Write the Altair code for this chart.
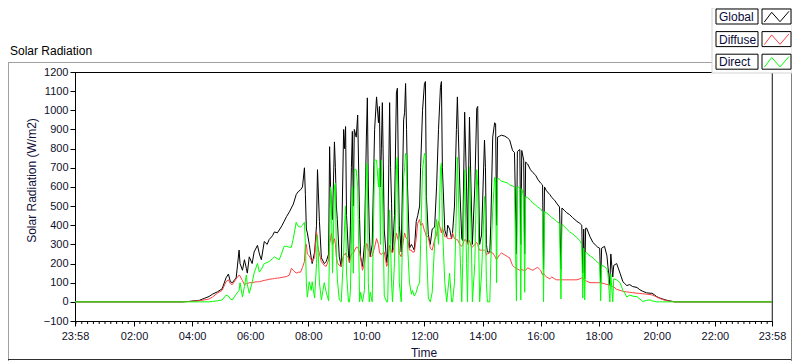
import altair as alt
import pandas as pd

# ---------------- data ----------------
TIMES = [
    "23:58", "03:39", "03:54", "04:04", "04:15", "04:25", "04:35", "04:42", "04:52", "05:02",
    "05:10", "05:15", "05:19", "05:23", "05:31", "05:37", "05:39", "05:44", "05:48", "05:52", "05:54", "05:58", "06:04",
    "06:08", "06:15", "06:19", "06:23", "06:29", "06:35", "06:39", "06:46", "06:50", "06:56", "07:00",
    "07:06", "07:10", "07:15", "07:21", "07:25", "07:29", "07:35", "07:39", "07:44", "07:48", "07:52", "07:54", "07:56", "07:58",
    "08:02", "08:06", "08:08", "08:13", "08:17", "08:19", "08:23", "08:27", "08:33", "08:37", "08:42", "08:44", "08:46", "08:48", "08:50", "08:54", "08:56", "08:58", "09:00",
    "09:04", "09:08", "09:13", "09:15", "09:17", "09:19", "09:23", "09:25", "09:27", "09:29", "09:31", "09:33", "09:35", "09:39", "09:42", "09:46", "09:48", "09:52", "09:56",
    "10:00", "10:02", "10:04", "10:06", "10:08", "10:12", "10:17", "10:21", "10:25", "10:27", "10:29", "10:31", "10:33", "10:37", "10:42", "10:44", "10:48", "10:50", "10:52", "10:54", "10:58",
    "11:02", "11:04", "11:06", "11:08", "11:12", "11:17", "11:19", "11:21", "11:23", "11:25", "11:29", "11:33", "11:35", "11:39", "11:43", "11:46", "11:50", "11:52", "11:56",
    "12:00", "12:02", "12:04", "12:08", "12:12", "12:16", "12:21", "12:25", "12:29", "12:33", "12:35", "12:37", "12:42", "12:46", "12:48", "12:52", "12:56", "12:58",
    "13:02", "13:06", "13:08", "13:13", "13:17", "13:19", "13:23", "13:27", "13:29", "13:33", "13:37", "13:39", "13:44", "13:48", "13:50", "13:52", "13:54", "13:58",
    "14:04", "14:06", "14:08", "14:10", "14:15", "14:17", "14:21", "14:25", "14:27", "14:29", "14:31", "14:35", "14:39", "14:46", "14:52", "14:56",
    "15:02", "15:06", "15:10", "15:12", "15:17", "15:19", "15:21", "15:25", "15:27", "15:29", "15:33", "15:39", "15:44", "15:50", "15:54", "16:00",
    "16:04", "16:06", "16:08", "16:12", "16:19", "16:23", "16:29", "16:33", "16:39", "16:42", "16:44", "16:50", "16:54", "17:00",
    "17:06", "17:15", "17:21", "17:25", "17:27", "17:29", "17:31", "17:33", "17:35", "17:42", "17:48", "17:54", "17:58", "18:02",
    "18:04", "18:06", "18:12", "18:17", "18:19", "18:23", "18:25", "18:29", "18:31", "18:37", "18:44", "18:50", "18:54", "18:58", "19:04",
    "19:10", "19:19", "19:25", "19:31", "19:39", "19:46", "19:50", "19:56", "20:00", "20:06", "20:12", "20:21", "20:27", "20:37", "23:58",
]

GLOBAL = [
    0, 0, 2, 5, 8, 18, 28, 40, 52, 68,
    125, 145, 105, 100, 125, 270, 200, 165, 220, 175, 150, 235, 200,
    260, 295, 250, 220, 315, 300, 325, 345, 365, 360, 375,
    400, 420, 445, 470, 490, 510, 560, 575, 585, 600, 700, 560, 380, 360,
    300, 230, 200, 260, 400, 690, 420, 230, 200, 210, 250, 810, 600, 480, 430, 835, 700, 500, 430,
    235, 185, 900, 800, 915, 450, 250, 205, 400, 700, 890, 500, 900, 860, 975, 430, 235, 185, 300,
    860, 1065, 600, 375, 235, 300, 900, 1070, 935, 1020, 600, 800, 1040, 375, 205, 250, 1040, 700, 515, 260, 450,
    1090, 1115, 700, 400, 260, 950, 990, 1140, 900, 600, 280, 300, 290, 270, 420, 450, 500, 700, 1000,
    1140, 1150, 550, 350, 300, 380, 390, 600, 900, 1120, 1150, 700, 375, 340, 400, 380, 330, 360,
    500, 900, 1070, 600, 330, 320, 990, 600, 310, 965, 500, 300, 600, 1010, 1020, 600, 300, 350,
    845, 700, 300, 260, 260, 400, 860, 935, 930, 400, 860, 865, 870, 865, 855, 845,
    790, 780, 250, 785, 795, 300, 790, 740, 250, 730, 720, 690, 675, 660, 640, 620,
    610, 170, 600, 580, 560, 545, 530, 515, 495, 170, 490, 475, 465, 455,
    440, 420, 410, 400, 150, 380, 120, 385, 385, 340, 310, 295, 285, 280,
    100, 280, 290, 240, 185, 90, 250, 130, 190, 200, 150, 105, 95, 85, 90,
    80, 75, 63, 55, 47, 45, 45, 35, 27, 20, 15, 8, 5, 0, 0,
]

DIFFUSE = [
    0, 0, 2, 4, 6, 10, 15, 25, 45, 60,
    105, 115, 95, 90, 120, 140, 135, 110, 90, 95, 95, 100, 100,
    103, 105, 105, 108, 112, 115, 118, 120, 122, 124, 125,
    128, 130, 132, 140, 175, 165, 150, 155, 155, 180, 210, 300, 300, 250,
    240, 220, 210, 230, 365, 300, 250, 210, 190, 185, 220, 305, 330, 360, 300, 330, 300, 235, 205,
    190, 185, 250, 245, 255, 240, 230, 205, 230, 250, 255, 250, 265, 285, 285, 260, 230, 165, 200,
    305, 300, 270, 263, 235, 240, 285, 330, 300, 260, 250, 247, 255, 260, 185, 200, 295, 280, 260, 255, 300,
    360, 340, 320, 253, 235, 330, 360, 340, 330, 330, 270, 270, 260, 260, 330, 410, 430, 400, 410,
    370, 360, 340, 340, 280, 270, 325, 350, 420, 380, 360, 390, 340, 340, 330, 330, 330, 360,
    330, 325, 325, 300, 290, 300, 325, 320, 300, 320, 285, 285, 300, 310, 300, 280, 270, 270,
    270, 265, 245, 250, 255, 260, 255, 240, 230, 220, 230, 245, 255, 245, 235, 230,
    190, 180, 175, 172, 165, 170, 168, 165, 165, 165, 178, 170, 165, 175, 180, 165,
    140, 150, 140, 130, 120, 130, 120, 115, 115, 115, 115, 115, 115, 115,
    115, 115, 120, 125, 125, 120, 110, 110, 108, 100, 100, 100, 100, 100,
    98, 98, 95, 90, 90, 85, 85, 80, 78, 65, 60, 55, 53, 52, 50,
    48, 45, 44, 42, 40, 38, 36, 30, 25, 18, 12, 6, 3, 0, 0,
]

DIRECT = [
    0, 0, 0, 0, 0, 0, 0, 2, 5, 10,
    35, 30, 15, 10, 40, 60, 100, 25, 80, 140, 90, 45, 100,
    150, 200, 155, 170, 200, 205, 210, 225, 235, 225, 220,
    260, 290, 290, 285, 285, 330, 415, 395, 390, 400, 415, 300, 100, 25,
    105, 60, 105, 20, 200, 350, 100, 10, 100, 50, 5, 300, 600, 500, 150, 600, 620, 250, 120,
    10, 0, 255, 400, 500, 150, 0, 0, 60, 300, 600, 150, 690, 690, 600, 0, 50, 0, 60,
    725, 700, 100, 0, 50, 0, 740, 740, 600, 700, 300, 740, 600, 30, 0, 0, 480, 300, 100, 0, 200,
    690, 755, 400, 100, 0, 650, 700, 775, 760, 300, 100, 40, 60, 30, 50, 80, 100, 300, 690,
    775, 760, 300, 20, 0, 50, 305, 430, 300, 690, 725, 400, 100, 0, 50, 150, 0, 0,
    100, 500, 755, 300, 0, 200, 690, 200, 0, 705, 300, 0, 200, 690, 600, 300, 0, 150,
    550, 400, 100, 0, 0, 200, 480, 650, 620, 100, 645, 640, 630, 625, 620, 610,
    605, 600, 5, 600, 598, 10, 590, 550, 50, 548, 545, 530, 515, 505, 495, 485,
    470, 0, 470, 465, 450, 440, 430, 420, 410, 15, 405, 390, 380, 365,
    355, 335, 320, 300, 20, 280, 10, 260, 255, 240, 230, 215, 205, 200,
    5, 190, 185, 170, 150, 0, 145, 0, 120, 115, 100, 60, 45, 25, 35,
    30, 27, 15, 2, 8, 10, 5, 2, 0, 0, 0, 0, 0, 0, 0,
]

SERIES = ["Global", "Diffuse", "Direct"]
COLORS = ["#000000", "#ff4040", "#00ff00"]
X_TICK_LABELS = ["23:58", "02:00", "04:00", "06:00", "08:00", "10:00", "12:00",
                 "14:00", "16:00", "18:00", "20:00", "22:00", "23:58"]
Y_TICKS = [-100, 0, 100, 200, 300, 400, 500, 600, 700, 800, 900, 1000, 1100, 1200]
CHART_TITLE = "Solar Radiation"
X_TITLE = "Time"
Y_TITLE = "Solar Radiation (W/m2)"

assert len(TIMES) == len(GLOBAL) == len(DIFFUSE) == len(DIRECT)


def to_minutes(t):
    h, m = t.split(":")
    return int(h) * 60 + int(m)


minutes = [to_minutes(t) for t in TIMES]
minutes[0] -= 1440  # starts at 23:58 of the previous day

frames = []
for name, vals in zip(SERIES, [GLOBAL, DIFFUSE, DIRECT]):
    frames.append(pd.DataFrame({"minute": minutes, "value": vals, "series": name}))
df = pd.concat(frames, ignore_index=True)

x_vals = [to_minutes(t) for t in X_TICK_LABELS]
x_vals[0] -= 1440

PW, PH = 697, 249
FONT = "Liberation Sans"

xscale = alt.Scale(domain=[x_vals[0], x_vals[-1]], nice=False, zero=False)
yscale = alt.Scale(domain=[Y_TICKS[0], Y_TICKS[-1]], nice=False, zero=False)

label_expr = ("(datum.value < 0 || datum.value > 1430) ? '23:58' : "
              "(datum.value < 600 ? '0' : '') + floor(datum.value / 60) + ':00'")

x_axis = alt.Axis(values=x_vals, labelExpr=label_expr, title=X_TITLE,
                  labelFlush=False, labelOverlap=False, tickSize=5,
                  labelPadding=4, titlePadding=6)
x_enc = alt.X("minute:Q", scale=xscale, axis=x_axis)
y_enc = alt.Y("value:Q", scale=yscale,
              axis=alt.Axis(values=Y_TICKS, title=Y_TITLE, tickSize=5, format="d",
                            labelPadding=2, titlePadding=5, titleY=108,
                            labelOverlap=False))

base = alt.Chart(df)
line_layers = [
    base.transform_filter(alt.datum.series == name)
        .mark_line(strokeWidth=1, color=c)
        .encode(x=x_enc, y=y_enc)
    for name, c in zip(SERIES, COLORS)
]

# minor ticks on the time axis (same x encoding so the axis is shared)
minor_df = pd.DataFrame({"minute": [m for m in range(0, 1440, 12) if m % 120 != 0 or m == 0]})
minor = alt.Chart(minor_df).mark_rule(color="#000000", strokeWidth=1).encode(
    x=x_enc, y=alt.value(PH), y2=alt.value(PH + 3))

# frame and decoration (pixel coordinates relative to plot origin)
deco_rows = [
    (-67, -9.5, 637, -9.5, "#a0a0a0"),
    (-66.5, -10, -66.5, 290, "#a0a0a0"),
    (-67, 287.5, 717, 287.5, "#303030"),
    (716.5, 1, 716.5, 290, "#808080"),
    (697, -2, 697, PH, "#8c8c8c"),
]
deco_df = pd.DataFrame(deco_rows, columns=["x", "y", "x2", "y2", "c"])
deco = alt.Chart(deco_df).mark_rule(strokeWidth=1).encode(
    x=alt.X("x:Q", scale=None), y=alt.Y("y:Q", scale=None),
    x2="x2:Q", y2="y2:Q", color=alt.Color("c:N", scale=None))

# legend (shifted a few px left/down to stay inside the drawing)
LX = -5
rect_rows = [(637, -64, 717, 1, "#ffffff", "#d4d4d4")]
zig_rows = []
text_rows = [(-65, -17.5, CHART_TITLE, "#000000")]
for k, (name, c) in enumerate(zip(SERIES, COLORS)):
    T = -63 + 22.6 * k
    rect_rows.append((646 + LX, T, 688 + LX, T + 15, "#ffffff", "#000000"))
    rect_rows.append((692 + LX, T, 721 + LX, T + 15, "#ffffff", "#000000"))
    pts = [(694.3 + LX, T + 13), (701.7 + LX, T + 3.3), (710 + LX, T + 12.7), (719 + LX, T + 2.3)]
    for (a, b), (a2, b2) in zip(pts[:-1], pts[1:]):
        zig_rows.append((a, b, a2, b2, c))
    text_rows.append((649 + LX, T + 12, name, "#0a0a3a"))

rect_df = pd.DataFrame(rect_rows, columns=["x", "y", "x2", "y2", "f", "s"])
legend_rects = alt.Chart(rect_df).mark_rect(strokeWidth=1).encode(
    x=alt.X("x:Q", scale=None), y=alt.Y("y:Q", scale=None),
    x2="x2:Q", y2="y2:Q",
    fill=alt.Fill("f:N", scale=None), stroke=alt.Stroke("s:N", scale=None))

zig_df = pd.DataFrame(zig_rows, columns=["x", "y", "x2", "y2", "c"])
legend_zig = alt.Chart(zig_df).mark_rule(strokeWidth=1).encode(
    x=alt.X("x:Q", scale=None), y=alt.Y("y:Q", scale=None),
    x2="x2:Q", y2="y2:Q", color=alt.Color("c:N", scale=None))

text_df = pd.DataFrame(text_rows, columns=["x", "y", "t", "c"])
texts = alt.Chart(text_df).mark_text(align="left", baseline="alphabetic",
                                     font=FONT, fontSize=12).encode(
    x=alt.X("x:Q", scale=None), y=alt.Y("y:Q", scale=None),
    text="t:N", color=alt.Color("c:N", scale=None))

chart = alt.layer(deco, minor, *line_layers, legend_rects, legend_zig, texts).properties(
    width=PW, height=PH,
    autosize=alt.AutoSizeParams(type="none"),
    padding={"left": 67, "top": 64, "right": 20, "bottom": 40},
    background="white",
).configure_view(
    stroke="#000000", strokeWidth=1
).configure_axis(
    grid=False, domainColor="#000000", tickColor="#000000",
    labelFont=FONT, titleFont=FONT, labelFontSize=11, titleFontSize=12,
    titleFontWeight="normal", labelColor="#10102a", titleColor="#10103a",
)

chart.save("out.html", embed_options={"renderer": "svg", "actions": False})
